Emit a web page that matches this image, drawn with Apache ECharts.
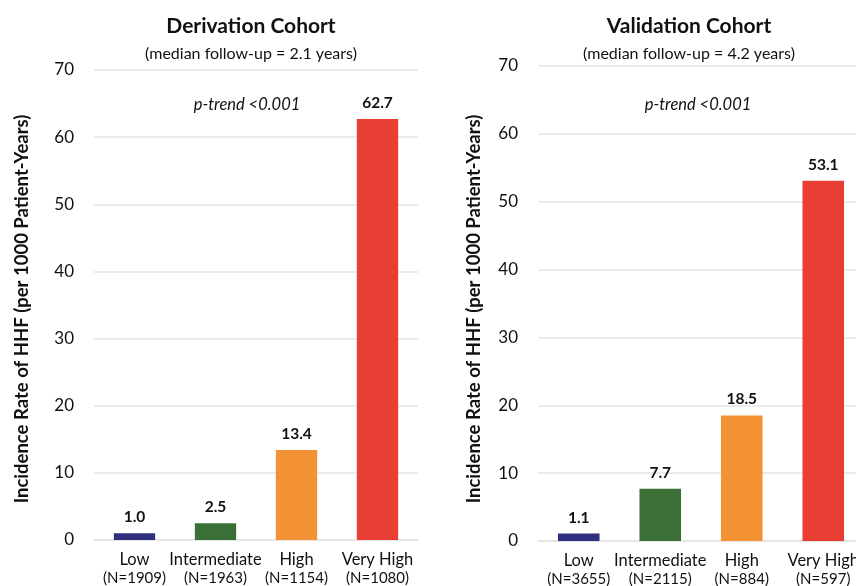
<!DOCTYPE html>
<html>
<head>
<meta charset="utf-8">
<script src="https://cdn.jsdelivr.net/npm/echarts@6/dist/echarts.min.js"></script>
<style>html,body{margin:0;padding:0;background:#fff}#c{width:856px;height:586px}</style>
</head>
<body>
<div id="c"></div>
<script>
const categories = ['Low', 'Intermediate', 'High', 'Very High'];
const derivationN = ['1909', '1963', '1154', '1080'];
const validationN = ['3655', '2115', '884', '597'];
const derivationValues = [1.0, 2.5, 13.4, 62.7];
const validationValues = [1.1, 7.7, 18.5, 53.1];
const barColors = ['#2e2f7f', '#3a7035', '#f39234', '#e93e33'];
const yTicks = [0, 10, 20, 30, 40, 50, 60, 70];
const titles = ['Derivation Cohort', 'Validation Cohort'];
const subtitles = ['(median follow-up = 2.1 years)', '(median follow-up = 4.2 years)'];
const trendText = 'p-trend <0.001';
const yName = 'Incidence Rate of HHF (per 1000 Patient-Years)';

const FONT = 'Lato';
const chart = echarts.init(document.getElementById('c'));

function xAxis(gi, ns) {
  return {
    type: 'category', gridIndex: gi, data: categories.map((c, i) => c + '\n{n|(N=' + ns[i] + ')}'),
    axisLine: { lineStyle: { color: '#e3e3e3', width: 1.5 } },
    axisTick: { show: false },
    axisLabel: {
      color: '#111', fontFamily: FONT, fontSize: 16.5, lineHeight: 18, margin: 11, interval: 0,
      rich: { n: { fontSize: 15, fontFamily: FONT, color: '#111', lineHeight: 18 } }
    }
  };
}
function yAxis(gi) {
  return {
    type: 'value', gridIndex: gi, min: yTicks[0], max: yTicks[yTicks.length - 1], interval: 10,
    axisLine: { show: false }, axisTick: { show: false },
    splitLine: { lineStyle: { color: '#e6e6e6', width: 1.5 } },
    axisLabel: { color: '#111', fontFamily: FONT, fontSize: 17, margin: 20 }
  };
}
function series(gi, vals) {
  return {
    type: 'bar', xAxisIndex: gi, yAxisIndex: gi, barWidth: '51%',
    data: vals.map((v, i) => ({ value: v, itemStyle: { color: barColors[i] } })),
    label: {
      show: true, position: 'top', distance: 8, color: '#111', fontWeight: 'bold',
      fontFamily: FONT, fontSize: 15.5, formatter: p => p.value.toFixed(1)
    }
  };
}

chart.setOption({
  animation: false,
  title: [
    { text: titles[0], subtext: subtitles[0], left: 246, top: 11, textAlign: 'center', itemGap: 9,
      textStyle: { fontFamily: FONT, fontWeight: 'bold', fontSize: 21, color: '#111' },
      subtextStyle: { fontFamily: FONT, fontSize: 16, color: '#111' } },
    { text: titles[1], subtext: subtitles[1], left: 684, top: 11, textAlign: 'center', itemGap: 9,
      textStyle: { fontFamily: FONT, fontWeight: 'bold', fontSize: 21, color: '#111' },
      subtextStyle: { fontFamily: FONT, fontSize: 16, color: '#111' } }
  ],
  grid: [
    { left: 94, right: 438, top: 70, bottom: 46, containLabel: false, outerBoundsMode: 'none' },
    { left: 538, right: -8, top: 66, bottom: 45, containLabel: false, outerBoundsMode: 'none' }
  ],
  xAxis: [xAxis(0, derivationN), xAxis(1, validationN)],
  yAxis: [yAxis(0), yAxis(1)],
  series: [series(0, derivationValues), series(1, validationValues)],
  graphic: [
    { type: 'text', x: 247, y: 105, style: { text: trendText, fontFamily: FONT, fontStyle: 'italic', fontSize: 16.5, fill: '#111', align: 'center', verticalAlign: 'middle' } },
    { type: 'text', x: 698, y: 105, style: { text: trendText, fontFamily: FONT, fontStyle: 'italic', fontSize: 16.5, fill: '#111', align: 'center', verticalAlign: 'middle' } },
    { type: 'text', x: 22, y: 309, rotation: Math.PI / 2, style: { text: yName, fontFamily: FONT, fontWeight: 'bold', fontSize: 18.5, fill: '#111', align: 'center', verticalAlign: 'middle' } },
    { type: 'text', x: 474, y: 309, rotation: Math.PI / 2, style: { text: yName, fontFamily: FONT, fontWeight: 'bold', fontSize: 18.5, fill: '#111', align: 'center', verticalAlign: 'middle' } }
  ]
});
</script>
</body>
</html>
